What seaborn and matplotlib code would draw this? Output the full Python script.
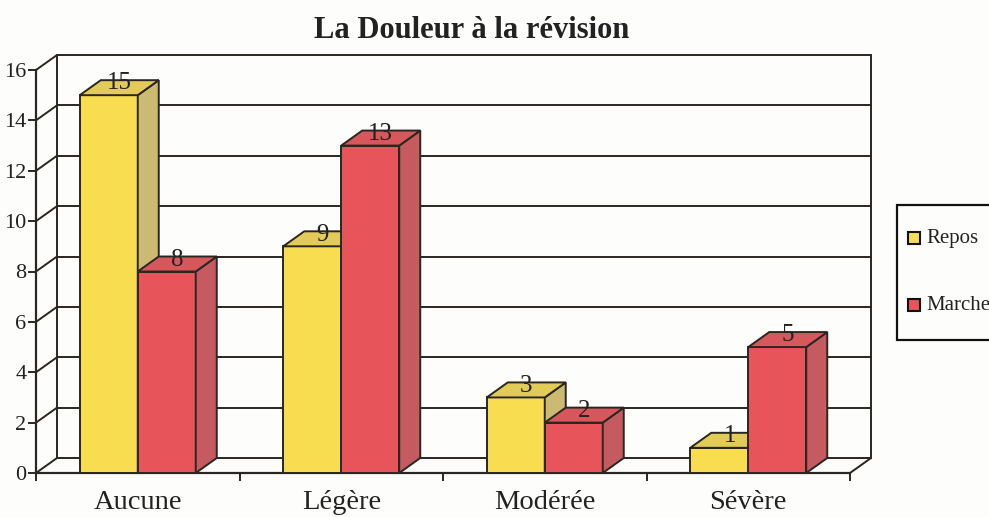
import matplotlib
matplotlib.use("Agg")
import matplotlib.pyplot as plt
import seaborn as sns
import pandas as pd
from matplotlib.patches import Polygon, Rectangle
from matplotlib.lines import Line2D

# ---- data ----
categories = ["Aucune", "Légère", "Modérée", "Sévère"]
series = ["Repos", "Marche"]
repos = [15, 9, 3, 1]
marche = [8, 13, 2, 5]
yticks = [0, 2, 4, 6, 8, 10, 12, 14, 16]
title = "La Douleur à la révision"

df = pd.DataFrame({
    "cat": categories * 2,
    "serie": [series[0]] * 4 + [series[1]] * 4,
    "val": repos + marche,
})

front_cols = ["#F7DD4F", "#E7545A"]
top_cols = ["#E3CB58", "#D6585C"]
side_cols = ["#CDBA72", "#C55B60"]
edge = "#2a2622"
bg = "#FDFDFB"

sns.set_theme(style="white")
plt.rcParams["font.family"] = ["Liberation Serif", "DejaVu Serif"]

W, H = 989, 517
fig = plt.figure(figsize=(W / 100, H / 100), dpi=100)
fig.patch.set_facecolor(bg)
ax = fig.add_axes([36 / W, 1 - 473 / H, (850 - 36) / W, (473 - 70) / H])
ax.set_facecolor("none")

sns.barplot(data=df, x="cat", y="val", hue="serie", order=categories,
            hue_order=series, palette=front_cols, width=0.57, gap=0,
            edgecolor=edge, linewidth=1.4, saturation=1, legend=False, ax=ax)

ax.set_xlim(-0.5, 3.5)
ax.set_ylim(0, 16)

# pixel offset for depth
p0 = ax.transData.transform((0, 0))
p1 = ax.transData.transform((1, 1))
DX = 21 / (p1[0] - p0[0])
DY = 15 / (p1[1] - p0[1])

lw = 1.4
# back wall grid and walls
for y in yticks:
    ax.add_line(Line2D([-0.5 + DX, 3.5 + DX], [y + DY, y + DY], color=edge, lw=lw,
                       zorder=1, clip_on=False))
    ax.add_line(Line2D([-0.5, -0.5 + DX], [y, y + DY], color=edge, lw=lw,
                       zorder=1, clip_on=False))
ax.add_line(Line2D([-0.5 + DX, -0.5 + DX], [DY, 16 + DY], color=edge, lw=lw,
                   zorder=1, clip_on=False))
ax.add_line(Line2D([3.5 + DX, 3.5 + DX], [DY, 16 + DY], color=edge, lw=lw,
                   zorder=1, clip_on=False))
ax.add_line(Line2D([3.5, 3.5 + DX], [0, DY], color=edge, lw=lw,
                   zorder=1, clip_on=False))

# 3D faces
for j, cont in enumerate(ax.containers):
    for bar, v in zip(cont.patches, [repos, marche][j]):
        x0 = bar.get_x()
        w = bar.get_width()
        h = bar.get_height()
        zf = 3 + j * 0.2
        bar.set_zorder(zf)
        top = Polygon([(x0, h), (x0 + w, h), (x0 + w + DX, h + DY), (x0 + DX, h + DY)],
                      closed=True, facecolor=top_cols[j], edgecolor=edge, lw=lw,
                      zorder=zf + 0.1, clip_on=False)
        side = Polygon([(x0 + w, 0), (x0 + w + DX, DY), (x0 + w + DX, h + DY), (x0 + w, h)],
                       closed=True, facecolor=side_cols[j], edgecolor=edge, lw=lw,
                       zorder=zf + 0.1, clip_on=False)
        ax.add_patch(side)
        ax.add_patch(top)
        ax.text(x0 + w / 2 + DX * 0.5, h + DY * 0.78, f"{v}", ha="center", va="center",
                fontsize=18, color="#222", zorder=5)

# axes styling
for s in ["top", "right"]:
    ax.spines[s].set_visible(False)
for s in ["left", "bottom"]:
    ax.spines[s].set_color(edge)
    ax.spines[s].set_linewidth(1.6)
    ax.spines[s].set_zorder(2)

ax.set_yticks(yticks)
ax.set_yticklabels([str(t) for t in yticks], fontsize=16, color="#222")
ax.tick_params(axis="y", direction="out", length=6, width=1.4, color=edge, pad=1, left=True)
ax.set_xticks(range(len(categories)))
ax.set_xticklabels(categories, fontsize=20.5, color="#222")
ax.tick_params(axis="x", length=0, pad=12)
ax.set_xticks([-0.5, 0.5, 1.5, 2.5, 3.5], minor=True)
ax.tick_params(axis="x", which="minor", direction="out", length=6, width=1.4, color=edge, bottom=True)
ax.set_xlabel("")
ax.set_ylabel("")
ax.grid(False)

fig.text(472 / W, 1 - 30 / H, title, ha="center", va="center", fontsize=22,
         fontweight="bold", color="#222")

# legend (manual, box runs past the right edge like the reference)
fig.patches.append(Rectangle((897 / W, 1 - 340 / H), 120 / W, 135 / H,
                             transform=fig.transFigure, facecolor=bg, edgecolor="#111",
                             lw=1.6, clip_on=False))
for k, (lab, col) in enumerate(zip(series, front_cols)):
    yc = [238, 305][k]
    fig.patches.append(Rectangle((908 / W, 1 - (yc + 6) / H), 12 / W, 12 / H,
                                 transform=fig.transFigure, facecolor=col,
                                 edgecolor="#111", lw=1.5))
    fig.text(926 / W, 1 - yc / H, lab, ha="left", va="center", fontsize=15, color="#222")

fig.savefig("out.png", dpi=100, facecolor=fig.get_facecolor())
